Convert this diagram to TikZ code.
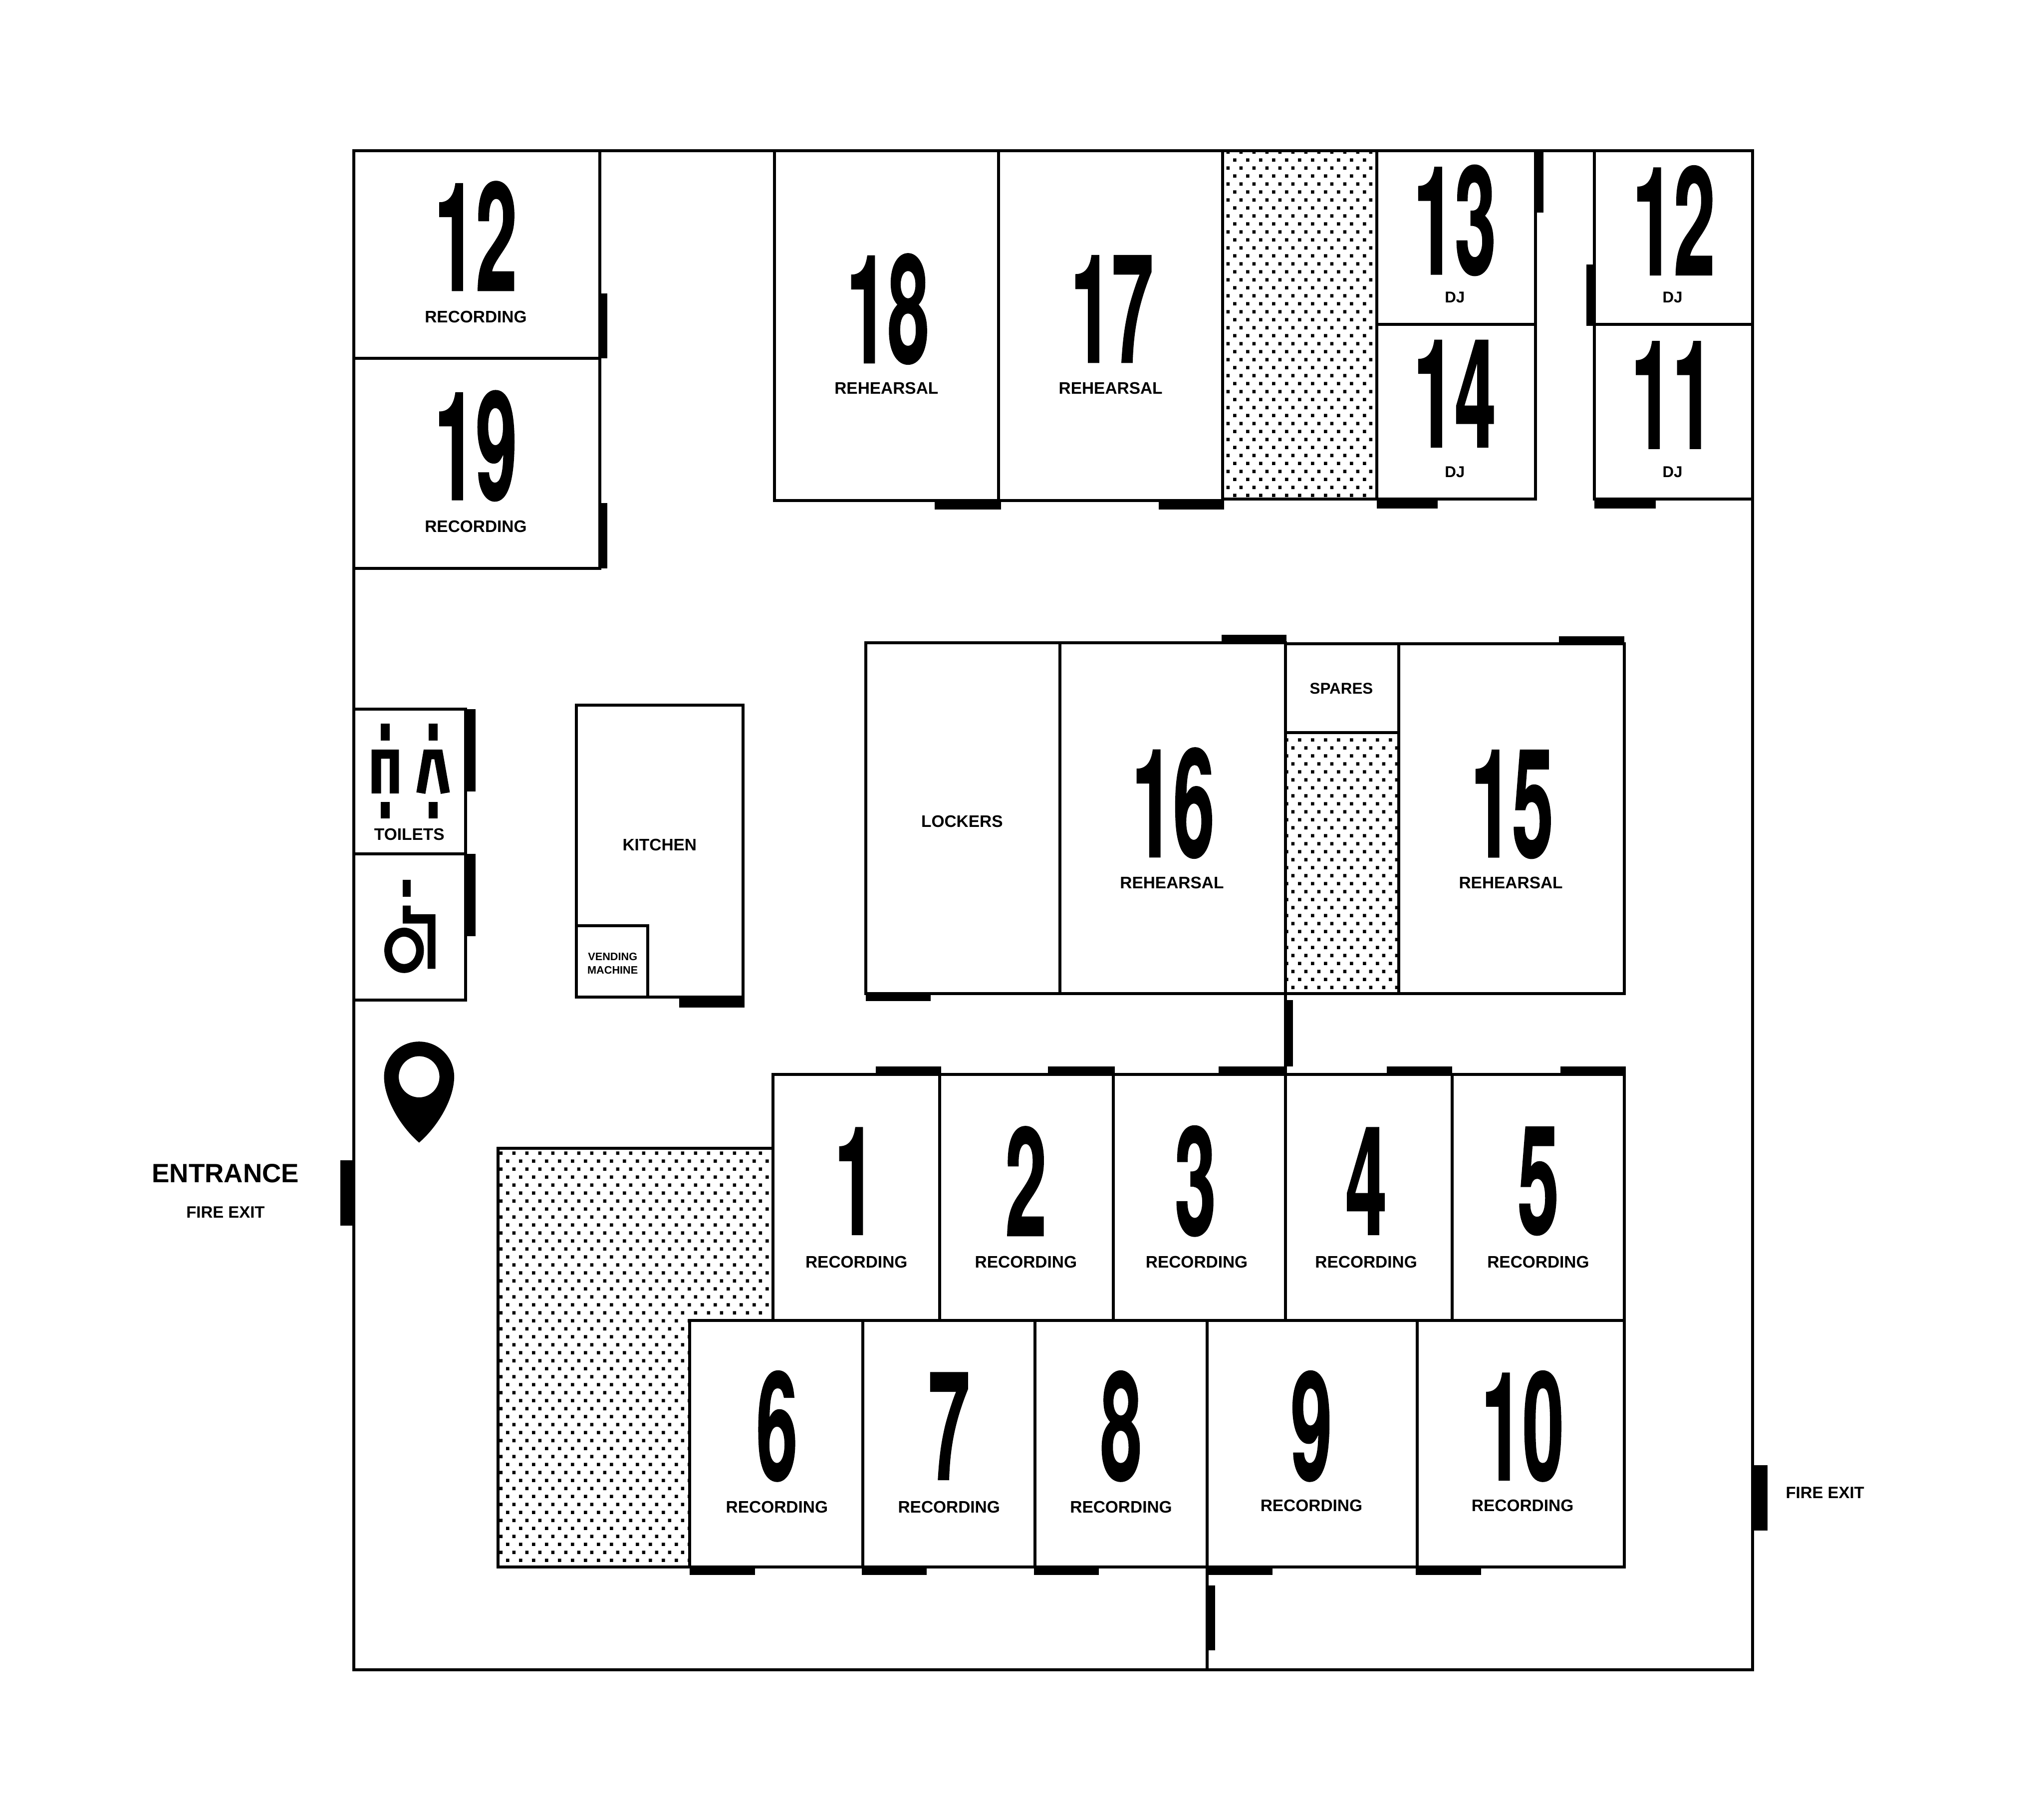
\documentclass[tikz,border=0pt]{standalone}
\usepackage{fontspec}
\setmainfont{Liberation Sans}
\newfontfamily\numfont[FakeStretch=0.49,FakeBold=0.6]{TeX Gyre Heros}
\usetikzlibrary{patterns}
\pgfdeclarepatternformonly{speckle}{\pgfqpoint{0pt}{0pt}}{\pgfqpoint{9.96pt}{12.38pt}}{\pgfqpoint{9.96pt}{12.38pt}}{%
  \pgfpathrectangle{\pgfqpoint{0pt}{0pt}}{\pgfqpoint{2.63pt}{2.63pt}}%
  \pgfpathrectangle{\pgfqpoint{4.98pt}{6.19pt}}{\pgfqpoint{2.63pt}{2.63pt}}%
  \pgfusepathqfill}
\tikzset{%
  wall/.style     = {draw, line width=2.3pt},%
  speckled/.style = {wall, pattern=speckle},%
  doorway/.style  = {fill=black},%
  glyph/.style    = {fill=black},%
  tag/.style      = {inner sep=0pt, font=\fontsize{12.8}{14}\selectfont\bfseries},%
  smalltag/.style = {tag, font=\fontsize{12}{13}\selectfont\bfseries},%
  tinytag/.style  = {tag, align=center, font=\fontsize{8.3}{10.3}\selectfont\bfseries},%
  bigtag/.style   = {tag, font=\fontsize{20.3}{22}\selectfont\bfseries},%
  exittag/.style  = {tag, font=\fontsize{12.6}{13}\selectfont\bfseries},%
  number/.style   = {inner sep=0pt, font=\fontsize{116}{116}\numfont\bfseries}%
}
\begin{document}
\begin{tikzpicture}[x=1pt, y=-1pt]
              \useasboundingbox (0,0) rectangle (1568,1396);
              % shaded blocks
              \draw[speckled] (938,115.5) rectangle (1056,383);
              \draw[speckled] (986,562) rectangle (1073,762);
              \draw[speckled] (382,881) -- (593,881) -- (593,1013) -- (529,1013) -- (529,1202) -- (382,1202) -- cycle;
              % building
              \draw[wall] (271.5,115.5) rectangle (1344.5,1281);
              \draw[wall] (986,762) -- (986,824);
              \draw[wall] (926,1202) -- (926,1281);
              % top rooms
              \draw[wall] (271.5,115.5) rectangle (460,275);
              \draw[wall] (271.5,275) rectangle (460,436);
              \draw[wall] (594,115.5) rectangle (766,384);
              \draw[wall] (766,115.5) rectangle (938,384);
              \draw[wall] (1056,115.5) rectangle (1178,249);
              \draw[wall] (1056,249) rectangle (1178,383);
              \draw[wall] (1223,115.5) rectangle (1344.5,249);
              \draw[wall] (1223,249) rectangle (1344.5,383);
              % middle rooms
              \draw[wall] (664,493) rectangle (813,762);
              \draw[wall] (813,493) rectangle (986,762);
              \draw[wall] (986,494) rectangle (1073,562);
              \draw[wall] (1073,494) rectangle (1246,762);
              \draw[wall] (442,541) rectangle (570,765);
              \draw[wall] (442,710) rectangle (497,765);
              \draw[wall] (271.5,544) rectangle (357,655);
              \draw[wall] (271.5,655) rectangle (357,767);
              % recording rooms
              \draw[wall] (593,824) rectangle (721,1013);
              \draw[wall] (721,824) rectangle (854,1013);
              \draw[wall] (854,824) rectangle (986,1013);
              \draw[wall] (986,824) rectangle (1114,1013);
              \draw[wall] (1114,824) rectangle (1246,1013);
              \draw[wall] (529,1013) rectangle (662,1202);
              \draw[wall] (662,1013) rectangle (794,1202);
              \draw[wall] (794,1013) rectangle (926,1202);
              \draw[wall] (926,1013) rectangle (1087,1202);
              \draw[wall] (1087,1013) rectangle (1246,1202);
              % doors
              \fill[doorway] (460,225) rectangle (466,275);
              \fill[doorway] (460,386) rectangle (466,436);
              \fill[doorway] (717,384) rectangle (768,391);
              \fill[doorway] (889,384) rectangle (939,391);
              \fill[doorway] (1178,115) rectangle (1184,163);
              \fill[doorway] (1056,383) rectangle (1103,390);
              \fill[doorway] (1217,203) rectangle (1223,250);
              \fill[doorway] (1223,383) rectangle (1270,390);
              \fill[doorway] (664,762) rectangle (714,768);
              \fill[doorway] (937,487) rectangle (987,493);
              \fill[doorway] (1196,488) rectangle (1246,494);
              \fill[doorway] (986,767) rectangle (992,818);
              \fill[doorway] (521,765) rectangle (571,773);
              \fill[doorway] (357,544) rectangle (365,607);
              \fill[doorway] (357,655) rectangle (365,718);
              \fill[doorway] (672,818) rectangle (722,824);
              \fill[doorway] (804,818) rectangle (855,824);
              \fill[doorway] (935,818) rectangle (986,824);
              \fill[doorway] (1064,818) rectangle (1114,824);
              \fill[doorway] (1197,818) rectangle (1247,824);
              \fill[doorway] (529,1202) rectangle (579,1208);
              \fill[doorway] (661,1202) rectangle (711,1208);
              \fill[doorway] (793,1202) rectangle (843,1208);
              \fill[doorway] (926,1202) rectangle (976,1208);
              \fill[doorway] (1086,1202) rectangle (1136,1208);
              \fill[doorway] (926,1216) rectangle (932,1266);
              \fill[doorway] (261,890) rectangle (271,940);
              \fill[doorway] (1344,1124) rectangle (1356,1174);
              % toilet signs
              \fill[glyph] (292,555) rectangle (299,568);
              \fill[glyph] (285,575) -- (306,575) -- (306,608.6) -- (299,608.6) -- (299,582) -- (292.3,582) -- (292.3,608.6) -- (285,608.6) -- cycle;
              \fill[glyph] (292,615) rectangle (299,628);
              \fill[glyph] (328.7,555) rectangle (335.8,568);
              \fill[glyph] (325,575) -- (339.3,575) -- (345.1,607.8) -- (338.1,609) -- (333.2,582.4) -- (331,582.4) -- (326.3,609) -- (319.4,607.8) -- cycle;
              \fill[glyph] (328.7,615) rectangle (335.8,628);
              \fill[glyph] (309,675) rectangle (315,688);
              \fill[glyph] (309,694.7) -- (315,694.7) -- (315,701.4) -- (334,701.4) -- (334,743.2) -- (328,743.2) -- (328,708.4) -- (309,708.4) -- cycle;
              \fill[glyph, even odd rule] (310,729) ellipse [x radius=15.2, y radius=17.4] (310,729) ellipse [x radius=9.2, y radius=10.5];
              % you are here
              \fill[glyph, even odd rule] (321.5,876.5) .. controls (306,863) and (294.6,842) .. (294.6,826) .. controls (294.6,811) and (306.6,799) .. (321.5,799) .. controls (336.4,799) and (348.4,811) .. (348.4,826) .. controls (348.4,842) and (337,863) .. (321.5,876.5) -- cycle (321.5,826) ellipse [x radius=15.6, y radius=15.8];
              % room numbers
              \node[number] (num12a) at (365,181) {12};
              \node[number] (num19) at (365,342) {19};
              \node[number] (num18) at (681,237) {18};
              \node[number] (num17) at (853,237) {17};
              \node[number] (num13) at (1116,169) {13};
              \node[number] (num14) at (1116,302) {14};
              \node[number] (num12b) at (1284,169) {12};
              \node[number] (num11) at (1283,303) {11};
              \node[number] (num16) at (900,616) {16};
              \node[number] (num15) at (1160,617) {15};
              \node[number] (num1) at (656,906) {1};
              \node[number] (num2) at (787,906) {2};
              \node[number] (num3) at (917,906) {3};
              \node[number] (num4) at (1048,906) {4};
              \node[number] (num5) at (1180,906) {5};
              \node[number] (num6) at (596,1094) {6};
              \node[number] (num7) at (728,1094) {7};
              \node[number] (num8) at (860,1094) {8};
              \node[number] (num9) at (1006,1094) {9};
              \node[number] (num10) at (1168,1094) {10};
              % room names
              \node[tag] (rec12) at (365,243) {RECORDING};
              \node[tag] (rec19) at (365,404) {RECORDING};
              \node[tag] (reh18) at (680,298) {REHEARSAL};
              \node[tag] (reh17) at (852,298) {REHEARSAL};
              \node[smalltag] (dj13) at (1116,228) {DJ};
              \node[smalltag] (dj14) at (1116,362) {DJ};
              \node[smalltag] (dj12) at (1283,228) {DJ};
              \node[smalltag] (dj11) at (1283,362) {DJ};
              \node[tag] (lockers) at (738,630) {LOCKERS};
              \node[tag] (reh16) at (899,677) {REHEARSAL};
              \node[smalltag] (spares) at (1029,528) {SPARES};
              \node[tag] (reh15) at (1159,677) {REHEARSAL};
              \node[tag] (kitchen) at (506,648) {KITCHEN};
              \node[tinytag] (vending) at (470,739) {VENDING\\MACHINE};
              \node[tag] (toilets) at (314,640) {TOILETS};
              \node[tag] (rec1) at (657,968) {RECORDING};
              \node[tag] (rec2) at (787,968) {RECORDING};
              \node[tag] (rec3) at (918,968) {RECORDING};
              \node[tag] (rec4) at (1048,968) {RECORDING};
              \node[tag] (rec5) at (1180,968) {RECORDING};
              \node[tag] (rec6) at (596,1156) {RECORDING};
              \node[tag] (rec7) at (728,1156) {RECORDING};
              \node[tag] (rec8) at (860,1156) {RECORDING};
              \node[tag] (rec9) at (1006,1155) {RECORDING};
              \node[tag] (rec10) at (1168,1155) {RECORDING};
              \node[bigtag] (entrance) at (173,900) {ENTRANCE};
              \node[exittag] (exitleft) at (173,930) {FIRE EXIT};
              \node[exittag] (exitright) at (1400,1145) {FIRE EXIT};
\end{tikzpicture}
\end{document}
